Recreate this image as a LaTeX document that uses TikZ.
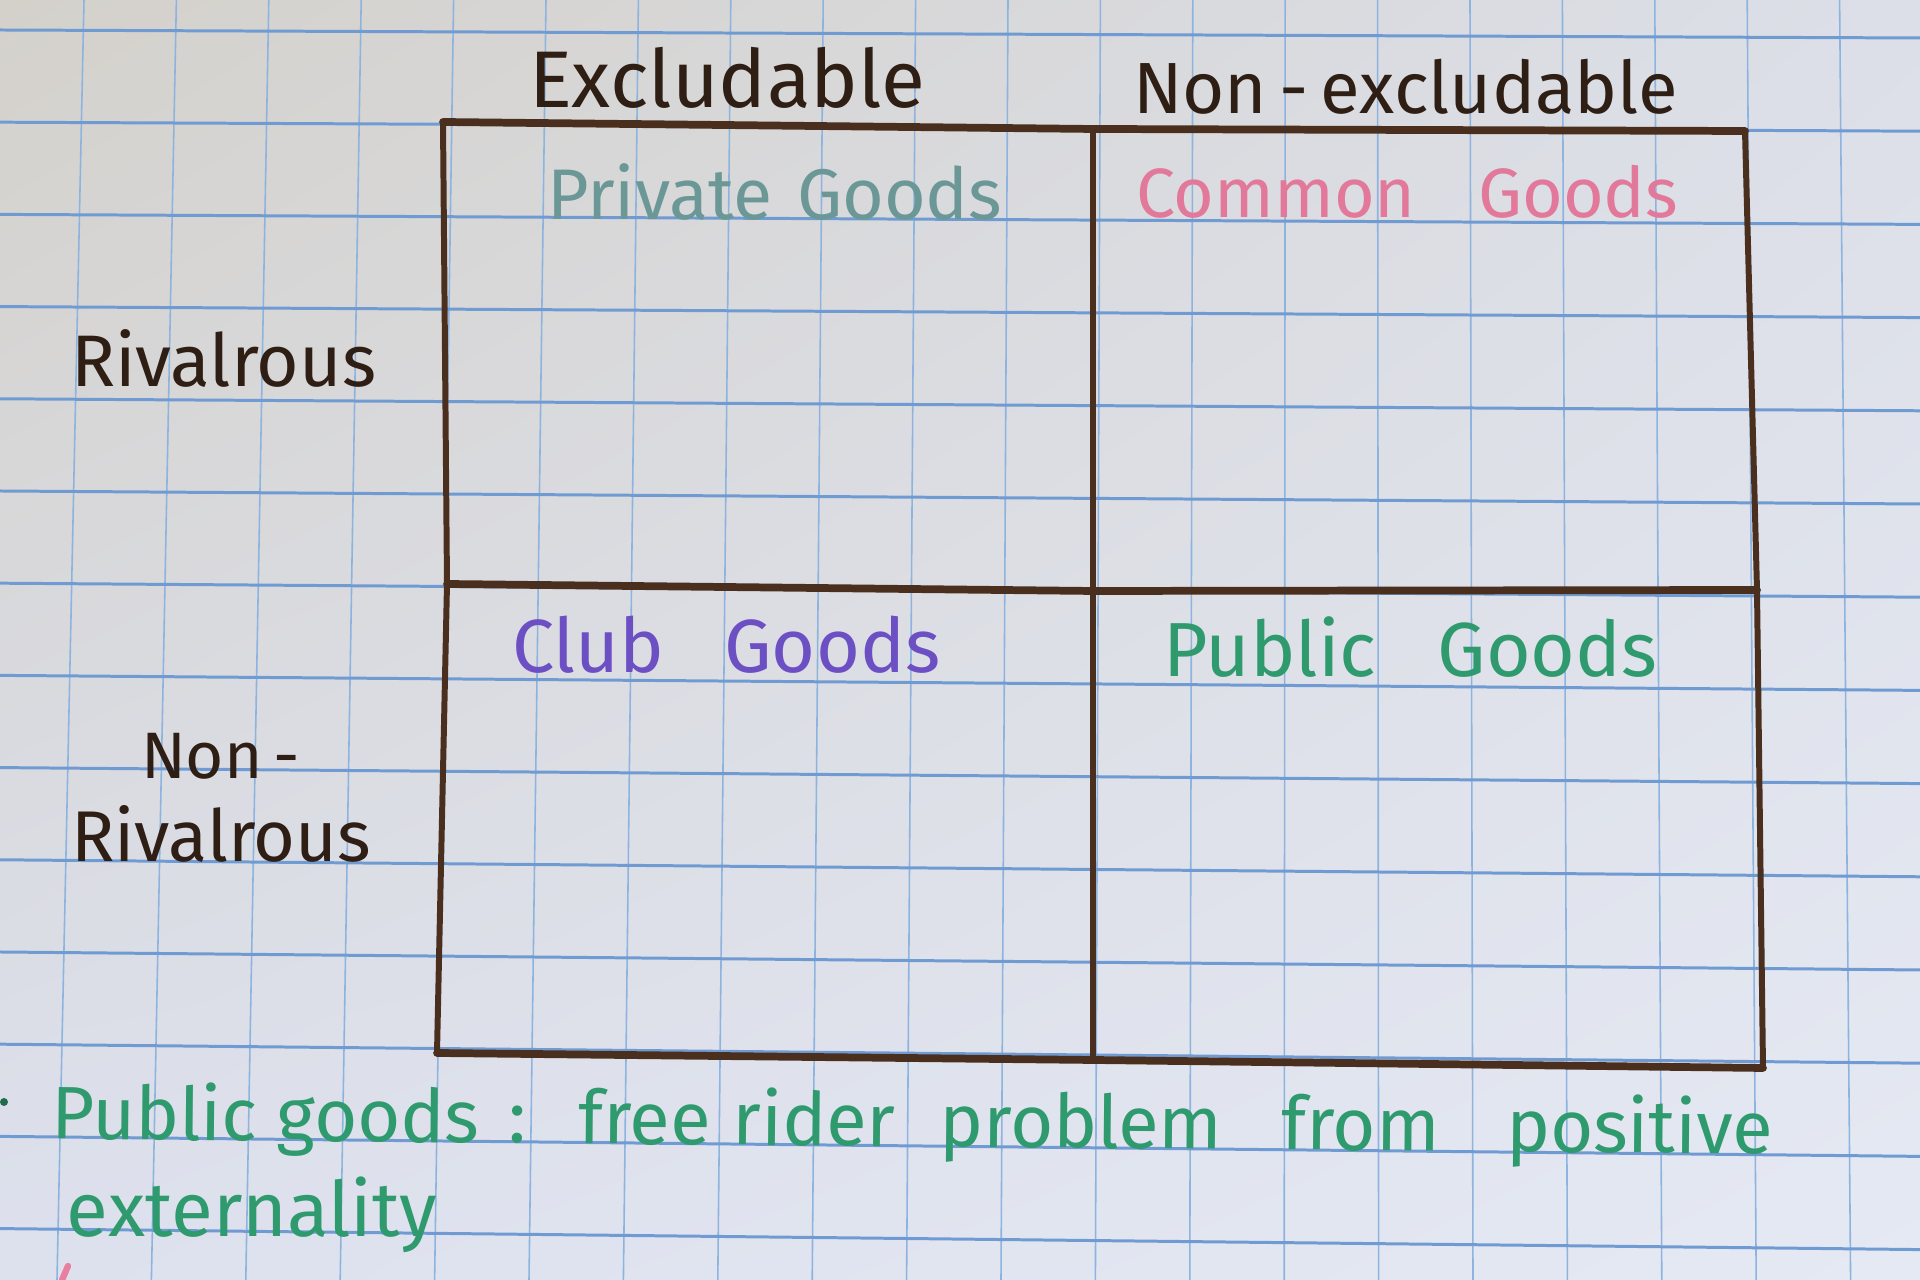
\documentclass[tikz,border=0pt]{standalone}
\usepackage{fontspec}
\setmainfont{Fira Sans}
\usepackage{graphicx}
\usetikzlibrary{shadings}

\definecolor{paperUL}{HTML}{D4D1CB}
\definecolor{paperUR}{HTML}{DCDFE8}
\definecolor{paperLL}{HTML}{DDE1EE}
\definecolor{paperLR}{HTML}{E5E9F3}
\definecolor{gridV}{HTML}{8DB3DF}
\definecolor{gridH}{HTML}{6F9BD2}
\definecolor{ink}{HTML}{4A2F1E}
\definecolor{headink}{HTML}{2E1E14}
\definecolor{privateC}{HTML}{6B9896}
\definecolor{commonC}{HTML}{E2799A}
\definecolor{clubC}{HTML}{6D4FC4}
\definecolor{publicC}{HTML}{2F9A6E}
\definecolor{markpink}{HTML}{E87FA0}

% text squeezed or stretched to a given width
\newcommand{\fitw}[2]{\resizebox{#1}{!}{#2}}

\tikzset{
  vgrid/.style={gridV, line width=0.45pt},
  hgrid/.style={gridH, line width=0.85pt},
  hrule/.style={ink, line width=2.2pt, line cap=round, line join=round},
  vrule/.style={ink, line width=1.7pt, line cap=round, line join=round},
  lbl/.style={inner sep=0pt, outer sep=0pt, anchor=base west, font=\fontsize{21}{25}\selectfont},
}

\begin{document}
\begin{tikzpicture}[x=0.01cm, y=-0.01cm]
\useasboundingbox (0,0) rectangle (1920,1280);

% paper
\shade[upper left=paperUL, upper right=paperUR, lower left=paperLL, lower right=paperLR]
  (0,0) rectangle (1920,1280);

% squared ruling
\begin{scope}
  \clip (0,0) rectangle (1920,1280);
  \foreach \k in {0,...,21} {
    \draw[vgrid] ({84+92.4*\k},0) -- ({57+94.4*\k},1280);
  }
  \foreach \k in {0,...,13} {
    \draw[hgrid] (0,{30+92.2*\k}) -- (1920,{38+93.2*\k});
  }
\end{scope}

% table corners
\coordinate (tl) at (443,122);
\coordinate (tm) at (1093,129);
\coordinate (tr) at (1745,131);
\coordinate (ml) at (447,584);
\coordinate (mm) at (1093,591);
\coordinate (mr) at (1757,590);
\coordinate (bl) at (437,1053);
\coordinate (bm) at (1093,1060);
\coordinate (br) at (1763,1068);

% table rules
\draw[vrule] (tl) -- (ml) -- (bl);
\draw[vrule] (tm) -- (mm) -- (bm);
\draw[vrule] (tr) -- (mr) -- (br);
\draw[hrule] (tl) -- (tm) -- (tr);
\draw[hrule] (ml) -- (mm) -- (mr);
\draw[hrule] (bl) -- (bm) -- (br);

% column headings
\node[lbl, text=headink] (colA) at (529,108) {\fitw{3.96cm}{Excludable}};
\node[lbl, text=headink] (colB) at (1133,114) {\fitw{5.45cm}{Non\,-\,excludable}};

% row headings
\node[lbl, text=headink] (rowA) at (71,387) {\fitw{3.05cm}{Rivalrous}};
\node[lbl, text=headink] (rowBa) at (141,779) {\fitw{1.59cm}{Non\,-}};
\node[lbl, text=headink] (rowBb) at (71,862) {\fitw{3.00cm}{Rivalrous}};

% cells
\node[lbl, text=privateC] (priv) at (547,220) {\fitw{4.55cm}{Private\hspace{0.35em}Goods}};
\node[lbl, text=commonC] (comm) at (1136,218) {\fitw{5.42cm}{Common\hspace{0.9em}Goods}};
\node[lbl, text=clubC] (club) at (512,673) {\fitw{4.28cm}{Club\hspace{0.8em}Goods}};
\node[lbl, text=publicC] (publ) at (1163,677) {\fitw{4.94cm}{Public\hspace{0.8em}Goods}};

% note below the table
\fill[publicC!70!black] (4,1102) circle (4);
\node[lbl, text=publicC, rotate=-0.5] (note) at (51,1139)
  {\fitw{17.21cm}{Public goods\hspace{0.4em}:\hspace{0.7em}free\hspace{0.3em}rider\hspace{0.6em}problem\hspace{0.8em}from\hspace{0.9em}positive}};
\node[lbl, text=publicC] (note2) at (67,1237) {\fitw{3.70cm}{externality}};

% stray pink stroke at the page edge
\draw[markpink, line width=1.8pt, line cap=round] (62,1280) -- (68,1266);
\end{tikzpicture}
\end{document}
